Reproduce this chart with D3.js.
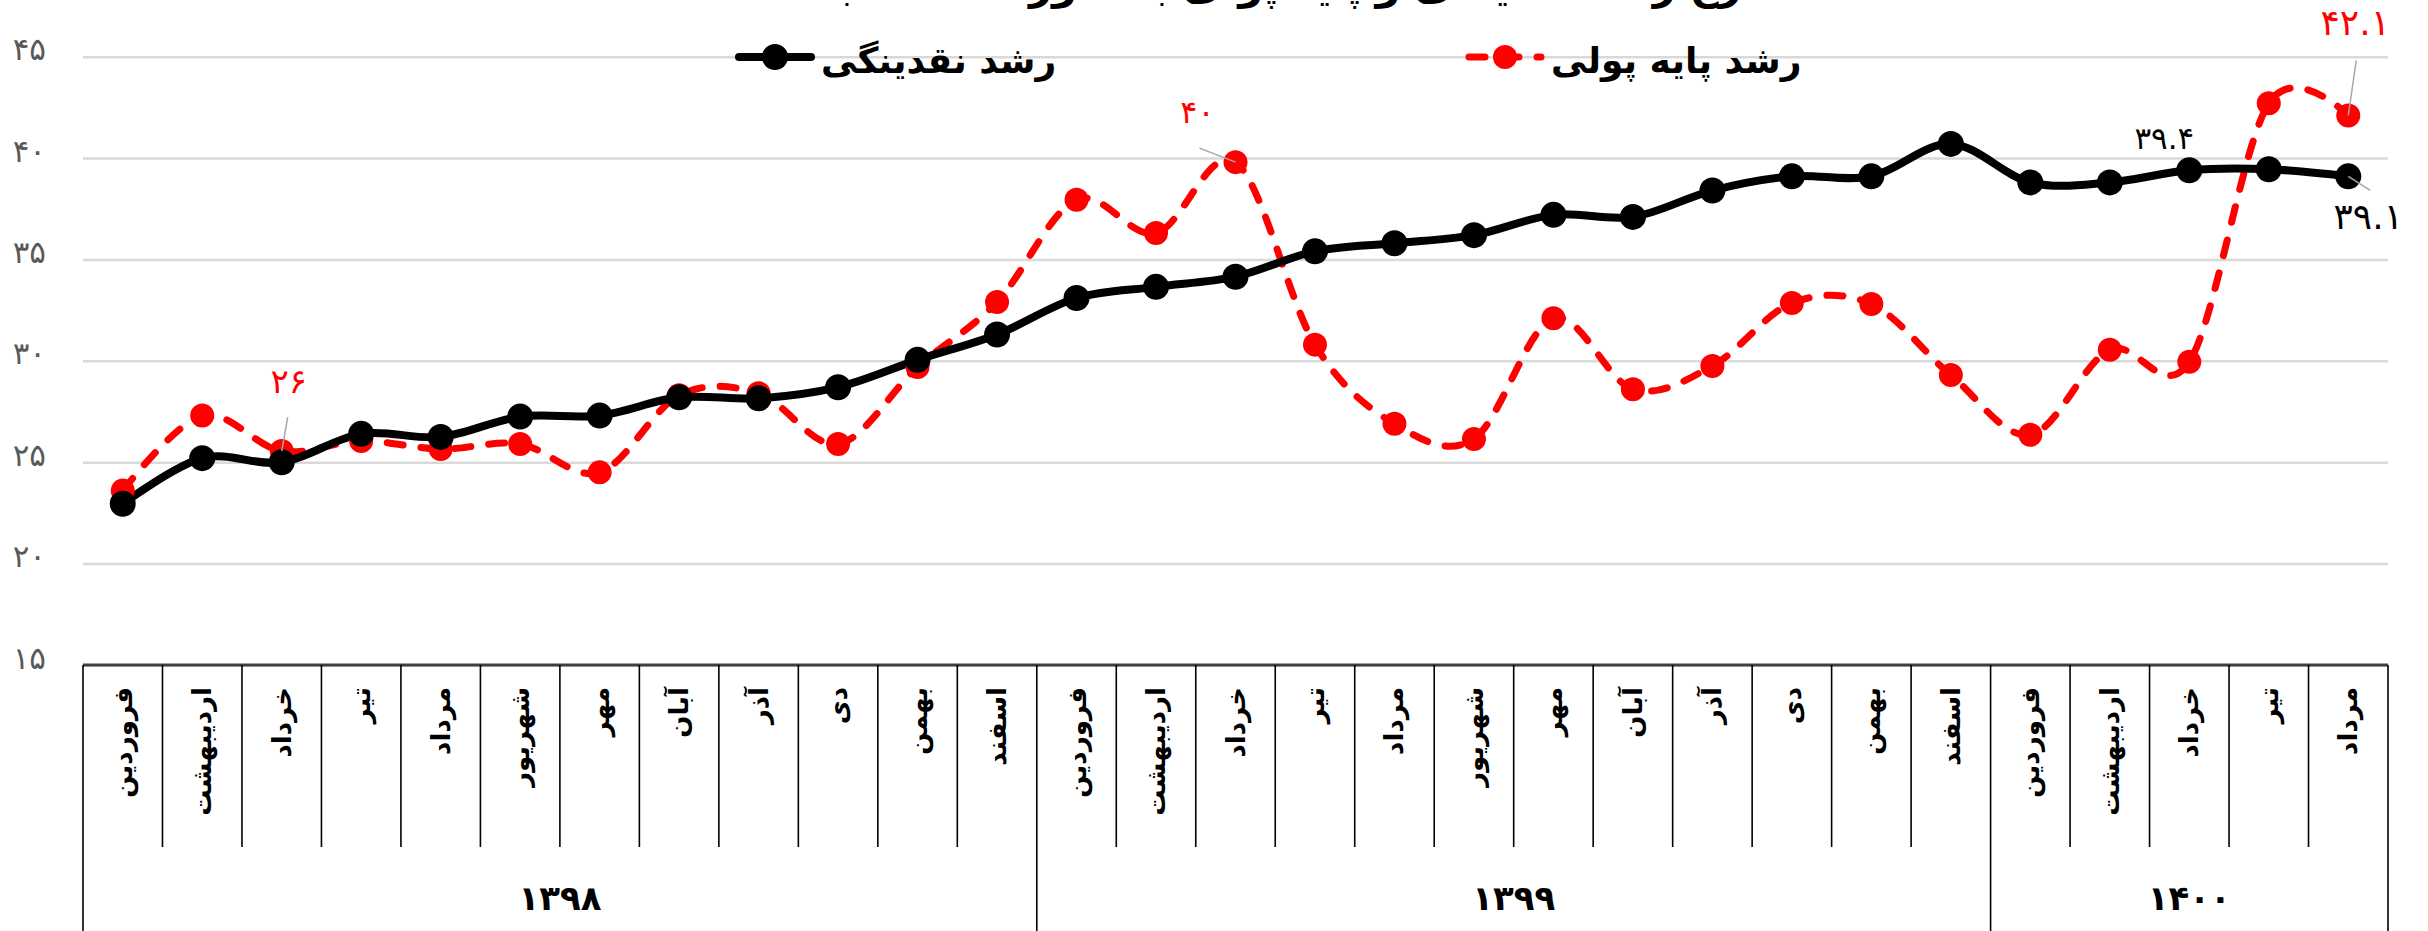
<!DOCTYPE html>
<html>
<head>
<meta charset="utf-8">
<script src="https://cdn.jsdelivr.net/npm/d3@7"></script>
<style>
  body { margin: 0; background: #fff; }
  svg { display: block; }
  text { font-family: 'DejaVu Sans', sans-serif; }
</style>
</head>
<body>
<div id="chart"></div>
<script>
// data
const monthNames = ['فروردین', 'اردیبهشت', 'خرداد', 'تیر', 'مرداد', 'شهریور', 'مهر', 'آبان', 'آذر', 'دی', 'بهمن', 'اسفند']
const years = ['۱۳۹۸', '۱۳۹۹', '۱۴۰۰']
const monthsPerYear = [12, 12, 5]
const liquidity = [22.95, 25.2, 25.0, 26.4, 26.25, 27.25, 27.3, 28.2, 28.15, 28.7, 30.05, 31.3,
  33.1, 33.65, 34.15, 35.4, 35.8, 36.2, 37.2, 37.1, 38.4, 39.1, 39.1, 40.7, 38.8, 38.8,
  39.4, 39.45, 39.1]
const baseMoney = [23.6, 27.3, 25.55, 26.05, 25.65, 25.9, 24.5, 28.3, 28.4, 25.9, 29.7, 32.9,
  37.95, 36.3, 39.8, 30.8, 26.9, 26.15, 32.1, 28.6, 29.75, 32.85, 32.8, 29.3, 26.35, 30.55,
  29.95, 42.7, 42.1]
const yTicks = [15, 20, 25, 30, 35, 40, 45]
const seriesNames = ['رشد نقدینگی', 'رشد پایه پولی']
const liquidityLabels = [{ i: 26, text: '۳۹.۴' }, { i: 28, text: '۳۹.۱' }]
const baseMoneyLabels = [{ i: 2, text: '۲۶' }, { i: 14, text: '۴۰' }, { i: 28, text: '۴۲.۱' }]
const title = 'نرخ رشد نقدینگی و پایه پولی به صورت نقطه به نقطه'

const categories = []
monthsPerYear.forEach((n, y) => {
  for (let m = 0; m < n; m++) categories.push({ year: y, month: monthNames[m] })
})

const width = 2428
const height = 931
const plot = { left: 83, right: 2388, top: 56.7, bottom: 665 }
const colors = { black: '#000', red: '#ff0000', grid: '#d9d9d9', tick: '#595959', leader: '#a6a6a6' }

const fa = s => String(s).replace(/\d/g, d => '۰۱۲۳۴۵۶۷۸۹'[d])

const svg = d3.select('#chart').append('svg')
  .attr('width', width)
  .attr('height', height)

const x = d3.scaleBand()
  .domain(d3.range(categories.length))
  .range([plot.left, plot.right])
  .padding(0)

const y = d3.scaleLinear()
  .domain([15, 45])
  .range([plot.bottom, plot.top])

const cx = i => x(i) + x.bandwidth() / 2

// title (cut off at the top, like the source image)
svg.append('text')
  .attr('x', 1226)
  .attr('y', -1)
  .attr('text-anchor', 'middle')
  .attr('font-size', 40)
  .attr('font-weight', 'bold')
  .text(title)

// grid
const grid = svg.append('g')
  .attr('transform', `translate(${plot.left},0)`)
  .call(d3.axisLeft(y).tickValues(yTicks).tickSize(-(plot.right - plot.left)).tickFormat(''))
grid.select('.domain').remove()
grid.selectAll('line').attr('stroke', colors.grid).attr('stroke-width', 2.5)

// y labels
const yAxis = svg.append('g')
  .attr('transform', `translate(46,0)`)
  .call(d3.axisLeft(y).tickValues(yTicks).tickSize(0).tickPadding(0).tickFormat(fa))
yAxis.select('.domain').remove()
yAxis.selectAll('text')
  .attr('font-size', 31)
  .attr('fill', colors.tick)
  .attr('dy', '0.1em')
  .style('font-family', "'DejaVu Sans', sans-serif")

// category axis
const monthBottom = 847
const axis = svg.append('g')
axis.append('line')
  .attr('x1', plot.left).attr('x2', plot.right)
  .attr('y1', plot.bottom).attr('y2', plot.bottom)
  .attr('stroke', '#404040').attr('stroke-width', 3)

const yearEnds = d3.cumsum(monthsPerYear)
axis.selectAll('line.sep')
  .data(d3.range(categories.length + 1))
  .enter()
  .append('line')
  .attr('class', 'sep')
  .attr('x1', i => i === categories.length ? plot.right : x(i))
  .attr('x2', i => i === categories.length ? plot.right : x(i))
  .attr('y1', plot.bottom)
  .attr('y2', i => (i === 0 || yearEnds.includes(i)) ? height : monthBottom)
  .attr('stroke', '#000')
  .attr('stroke-width', 1.6)

axis.selectAll('text.month')
  .data(categories)
  .enter()
  .append('text')
  .attr('class', 'month')
  .attr('transform', (d, i) => `translate(${cx(i)},${plot.bottom + 22}) rotate(-90)`)
  .attr('text-anchor', 'end')
  .attr('dominant-baseline', 'central')
  .attr('font-size', 26)
  .attr('font-weight', 'bold')
  .text(d => d.month)

const yearStarts = [0, ...yearEnds]
axis.selectAll('text.year')
  .data(years)
  .enter()
  .append('text')
  .attr('class', 'year')
  .attr('x', (d, k) => (x(yearStarts[k]) + (yearStarts[k + 1] === categories.length ? plot.right : x(yearStarts[k + 1]))) / 2)
  .attr('y', 898)
  .attr('text-anchor', 'middle')
  .attr('dominant-baseline', 'central')
  .attr('font-size', 34)
  .attr('font-weight', 'bold')
  .text(d => d)

// lines
const line = d3.line()
  .x((d, i) => cx(i))
  .y(d => y(d))
  .curve(d3.curveCardinal.tension(0))

svg.append('path')
  .attr('d', line(baseMoney))
  .attr('fill', 'none')
  .attr('stroke', colors.red)
  .attr('stroke-width', 7)
  .attr('stroke-linecap', 'round')
  .attr('stroke-dasharray', '16,18')

svg.append('path')
  .attr('d', line(liquidity))
  .attr('fill', 'none')
  .attr('stroke', colors.black)
  .attr('stroke-width', 8)
  .attr('stroke-linejoin', 'round')

svg.selectAll('circle.base')
  .data(baseMoney)
  .enter()
  .append('circle')
  .attr('class', 'base')
  .attr('cx', (d, i) => cx(i))
  .attr('cy', d => y(d))
  .attr('r', 12)
  .attr('fill', colors.red)

svg.selectAll('circle.liq')
  .data(liquidity)
  .enter()
  .append('circle')
  .attr('class', 'liq')
  .attr('cx', (d, i) => cx(i))
  .attr('cy', d => y(d))
  .attr('r', 13)
  .attr('fill', colors.black)

// data labels: label centre offset from its point, and leader line end
const labelStyle = {
  'b2': { dx: 7, dy: -70, size: 34, lead: [6, -34] },
  'b14': { dx: -38, dy: -50, size: 32, lead: [-36, -14] },
  'b28': { dx: 7, dy: -93, size: 36, lead: [8, -55] },
  'l26': { dx: -25, dy: -32, size: 31, lead: null },
  'l28': { dx: 20, dy: 40, size: 36, lead: [22, 14] }
}

const labels = [
  ...baseMoneyLabels.map(d => ({ ...d, key: 'b' + d.i, v: baseMoney[d.i], color: colors.red })),
  ...liquidityLabels.map(d => ({ ...d, key: 'l' + d.i, v: liquidity[d.i], color: colors.black }))
]

labels.forEach(d => {
  const s = labelStyle[d.key]
  const px = cx(d.i)
  const py = y(d.v)
  if (s.lead) {
    svg.append('line')
      .attr('x1', px).attr('y1', py)
      .attr('x2', px + s.lead[0]).attr('y2', py + s.lead[1])
      .attr('stroke', colors.leader).attr('stroke-width', 1.5)
  }
  svg.append('text')
    .attr('x', px + s.dx)
    .attr('y', py + s.dy)
    .attr('text-anchor', 'middle')
    .attr('dominant-baseline', 'central')
    .attr('font-size', s.size)
    .attr('fill', d.color)
    .text(d.text)
})

// legend
const legend = svg.append('g')
const legendItems = [
  { name: seriesNames[0], color: colors.black, x: 739, dash: null, r: 13, w: 8 },
  { name: seriesNames[1], color: colors.red, x: 1469, dash: '16,18', r: 12, w: 7 }
]
legendItems.forEach(d => {
  legend.append('line')
    .attr('x1', d.x).attr('x2', d.x + 72)
    .attr('y1', 57).attr('y2', 57)
    .attr('stroke', d.color)
    .attr('stroke-width', d.w)
    .attr('stroke-linecap', 'round')
    .attr('stroke-dasharray', d.dash)
  legend.append('circle')
    .attr('cx', d.x + 36).attr('cy', 57).attr('r', d.r)
    .attr('fill', d.color)
  legend.append('text')
    .attr('x', d.x + 82)
    .attr('y', 60)
    .attr('text-anchor', 'start')
    .attr('dominant-baseline', 'central')
    .attr('font-size', 36)
    .attr('font-weight', 'bold')
    .text(d.name)
})
</script>
</body>
</html>
